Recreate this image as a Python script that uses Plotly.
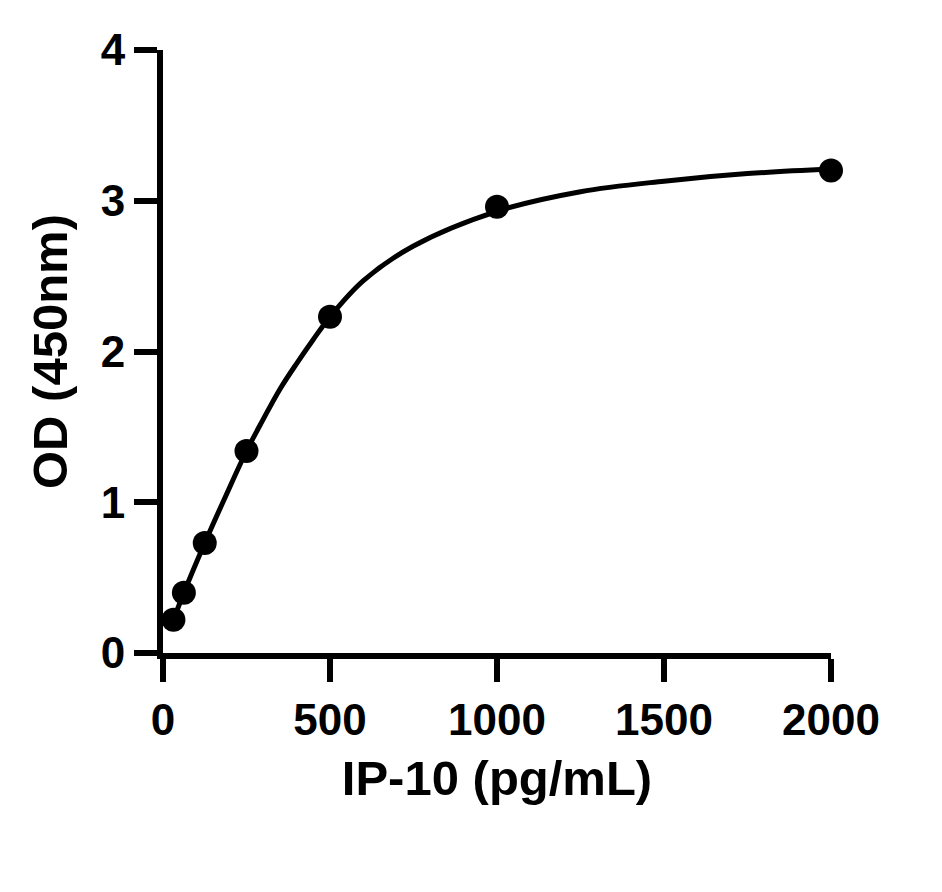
import plotly.graph_objects as go

# standard points (pg/mL vs OD 450nm)
conc = [31.25, 62.5, 125, 250, 500, 1000, 2000]
od = [0.22, 0.40, 0.73, 1.34, 2.23, 2.96, 3.20]

# fitted curve
fit_x = [31.25, 62.5, 125, 187.5, 250, 300, 350, 400, 450, 500, 600, 750, 1000, 1250, 1500, 1750, 2000]
fit_y = [0.22, 0.40, 0.73, 1.04, 1.34, 1.55, 1.75, 1.92, 2.08, 2.23, 2.47, 2.70, 2.93, 3.06, 3.13, 3.18, 3.21]

x_ticks = [0, 500, 1000, 1500, 2000]
y_ticks = [0, 1, 2, 3, 4]

font = "Liberation Sans"

fig = go.Figure()
fig.add_trace(go.Scatter(x=fit_x, y=fit_y, mode="lines",
                         line=dict(color="black", width=5, shape="spline", smoothing=1.0),
                         cliponaxis=False, hoverinfo="skip"))
fig.add_trace(go.Scatter(x=conc, y=od, mode="markers",
                         marker=dict(color="black", size=24),
                         cliponaxis=False))

axis_style = dict(showline=True, linecolor="black", linewidth=6,
                  ticks="outside", ticklen=23, tickwidth=6, tickcolor="black",
                  showgrid=False, zeroline=False,
                  tickfont=dict(family=font, size=44, color="black", weight="bold"))

fig.update_xaxes(range=[0, 2000], tickvals=x_ticks,
                 title=dict(text="<b>IP-10 (pg/mL)</b>", font=dict(family=font, size=49, color="black"),
                            standoff=20),
                 **axis_style)
fig.update_yaxes(range=[0, 4], tickvals=y_ticks,
                 title=dict(text="<b>OD (450nm)</b>", font=dict(family=font, size=49, color="black"),
                            standoff=20),
                 **axis_style)

fig.update_layout(width=942, height=892, showlegend=False,
                  plot_bgcolor="white", paper_bgcolor="white",
                  margin=dict(l=155, r=119, t=42, b=247))

fig.write_html("out.html")
